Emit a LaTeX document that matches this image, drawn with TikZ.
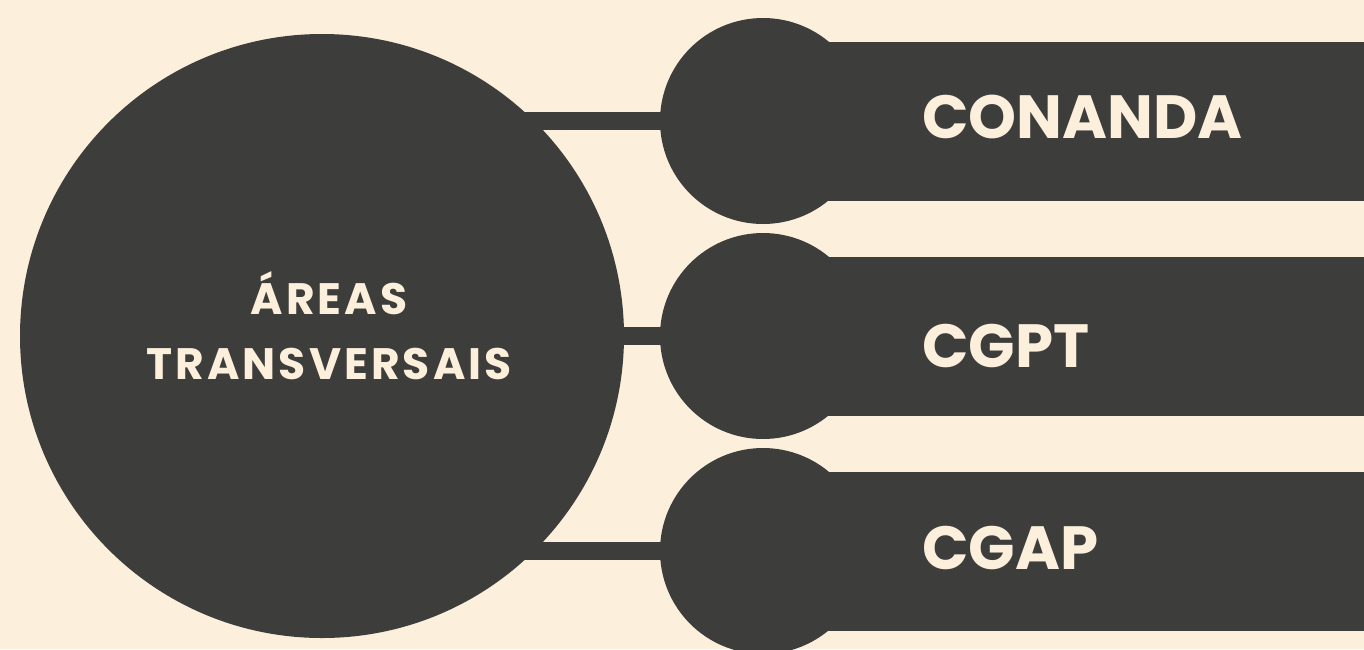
\documentclass[tikz,border=0pt]{standalone}
\usepackage{fontspec}
\setmainfont{Poppins}
\newfontfamily\hubfont[LetterSpace=7]{Poppins}
\definecolor{cream}{HTML}{FCF0DD}
\definecolor{charcoal}{HTML}{3D3D3B}
\pgfdeclarelayer{back}
\pgfdeclarelayer{links}
\pgfsetlayers{back,links,main}

\begin{document}
\begin{tikzpicture}[x=1pt,y=-1pt,thick,
    hub node/.style={circle,fill=charcoal,minimum size=604pt,inner sep=0pt},
    hub text/.style={align=center,inner sep=0pt,text=cream,font=\hubfont\bfseries\fontsize{44}{65}\selectfont},
    dot node/.style={circle,fill=charcoal,minimum size=206pt,inner sep=0pt},
    bar node/.style={anchor=west,fill=charcoal,minimum width=601pt,minimum height=159pt,inner sep=0pt},
    label node/.style={anchor=base west,inner sep=0pt,text=cream,font=\bfseries\fontsize{61}{70}\selectfont},
    link/.style={draw=charcoal,line width=18pt}]
    \clip (0,0) rectangle (1364,649);
    \useasboundingbox (0,0) rectangle (1364,649);
    \begin{pgfonlayer}{back}
        \fill[cream] (0,0) rectangle (1364,649);
    \end{pgfonlayer}

    \node[hub node] (hub) at (322,336) {};
    \node[hub text] (title) at (329,326) {ÁREAS\\TRANSVERSAIS};

    \foreach \i/\y/\base/\name in {1/121/138/CONANDA,2/336/367/CGPT,3/551/569/CGAP}{
        \node[bar node] (bar\i) at (763,\y) {};
        \node[dot node] (dot\i) at (763,\y) {};
        \node[label node] (label\i) at (922,\base) {\name};
        \begin{pgfonlayer}{links}
            \draw[link] (dot\i.center) -- (hub.center |- dot\i.center);
        \end{pgfonlayer}
    }
\end{tikzpicture}
\end{document}
